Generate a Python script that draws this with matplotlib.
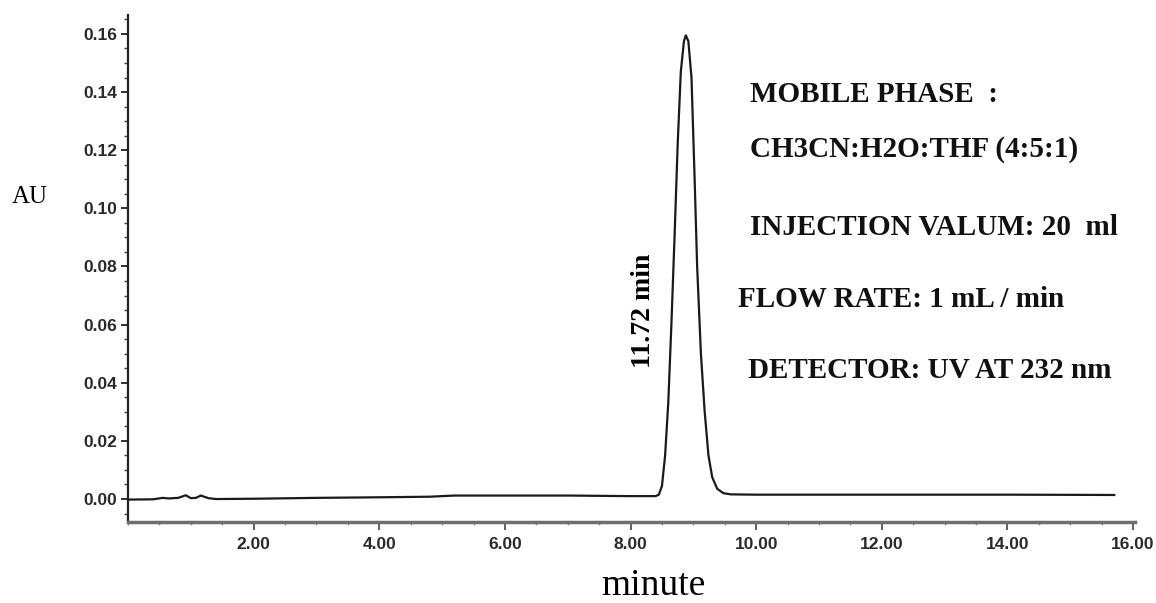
import matplotlib.pyplot as plt
from matplotlib.ticker import MultipleLocator, FormatStrFormatter

# chromatogram trace (minutes, AU)
time_min = [0.00, 0.40, 0.55, 0.65, 0.72, 0.80, 0.92, 1.00, 1.08, 1.16, 1.28, 1.40,
            2.00, 3.00, 4.00, 4.80, 5.00, 5.20, 6.00, 7.00, 8.00, 8.40,
            8.45, 8.50, 8.55, 8.60, 8.65, 8.70, 8.75, 8.80, 8.85, 8.88, 8.92,
            8.97, 9.02, 9.06, 9.12, 9.18, 9.24, 9.30, 9.38, 9.48, 9.60,
            10.00, 12.00, 14.00, 15.70]
au = [-0.0002, -0.0001, 0.0004, 0.0002, 0.0003, 0.0004, 0.0013, 0.0003, 0.0004, 0.0012, 0.0003, 0.0000,
      0.0001, 0.0004, 0.0006, 0.0008, 0.0010, 0.0012, 0.0012, 0.0012, 0.0010, 0.0010,
      0.0015, 0.0045, 0.0150, 0.0330, 0.0600, 0.0900, 0.1220, 0.1470, 0.1575, 0.1595, 0.1575,
      0.1450, 0.1100, 0.0800, 0.0500, 0.0300, 0.0150, 0.0075, 0.0035, 0.0020, 0.0016,
      0.0015, 0.0015, 0.0015, 0.0014]

peak_label = "11.72 min"
info_lines = ["MOBILE PHASE  :", "CH3CN:H2O:THF (4:5:1)", "INJECTION VALUM: 20  ml",
              "FLOW RATE: 1 mL / min", "DETECTOR: UV AT 232 nm"]
info_pos = [(750, 102), (750, 157), (750, 235), (738, 307), (748, 378)]  # pixel x, baseline y

W, H = 1156, 603
fig = plt.figure(figsize=(W / 100, H / 100), dpi=100)
ax = fig.add_axes([128 / W, 1 - 522 / H, (1135 - 128) / W, (522 - 15) / H])

ax.plot(time_min, au, color="#1a1a1a", lw=1.6)

ax.set_xlim(0, 16.03)
ax.set_ylim(-0.0079, 0.1665)
ax.set_xticks([2, 4, 6, 8, 10, 12, 14, 16])
ax.xaxis.set_minor_locator(MultipleLocator(0.5))
ax.set_yticks([0.0, 0.02, 0.04, 0.06, 0.08, 0.10, 0.12, 0.14, 0.16])
ax.yaxis.set_minor_locator(MultipleLocator(0.005))
ax.xaxis.set_major_formatter(FormatStrFormatter("%.2f"))
ax.yaxis.set_major_formatter(FormatStrFormatter("%.2f"))

for side in ["top", "right"]:
    ax.spines[side].set_visible(False)
ax.spines["left"].set_linewidth(1.6)
ax.spines["left"].set_color("#222222")
ax.spines["bottom"].set_linewidth(2.5)
ax.spines["bottom"].set_color("#6e6e6e")

ax.tick_params(axis="y", which="major", direction="out", length=5, width=1.3, pad=3,
               colors="#222222")
ax.tick_params(axis="y", which="minor", direction="out", length=3, width=1.0, colors="#444444")
ax.tick_params(axis="x", which="major", direction="out", length=6, width=1.2, pad=5,
               colors="#444444")
ax.tick_params(axis="x", which="minor", direction="out", length=2, width=1.0, colors="#888888")
for lab in ax.get_xticklabels() + ax.get_yticklabels():
    lab.set_fontfamily("Liberation Sans")
    lab.set_fontweight("bold")
    lab.set_fontsize(12.5)
    lab.set_color("#2a2a2a")

# axis labels
fig.text(30 / W, 1 - 197 / H, "AU", family="Liberation Serif", fontsize=18,
         ha="center", va="center")
fig.text(653 / W, 1 - 595 / H, "minute", family="Liberation Serif", fontsize=27,
         ha="center", va="baseline")

# annotations
fig.text(656 / W, 1 - 311 / H, peak_label, family="Liberation Serif", fontweight="bold",
         fontsize=20, rotation=90, ha="right", va="center")
for txt, (px, py) in zip(info_lines, info_pos):
    fig.text(px / W, 1 - py / H, txt, family="Liberation Serif", fontweight="bold",
             fontsize=21, ha="left", va="baseline", color="#111111")

fig.savefig("out.png", dpi=100)
